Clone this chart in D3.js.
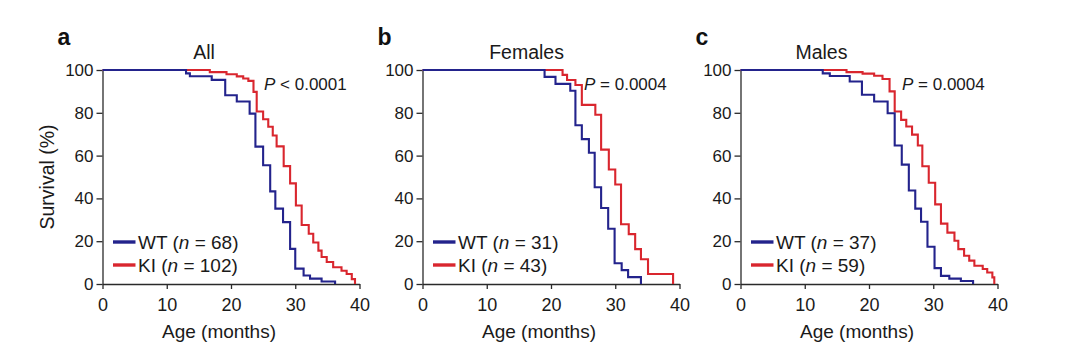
<!DOCTYPE html>
<html><head><meta charset="utf-8">
<script src="https://cdn.jsdelivr.net/npm/d3@7"></script>
<style>
html,body{margin:0;padding:0;background:#fff;}
svg{display:block;font-family:"Liberation Sans",Arial,Helvetica,sans-serif;}
</style></head>
<body><svg id="chart" width="1080" height="358"></svg>
<script>
// ---- data ----
const panelLetters = ["a", "b", "c"];
const panelTitles = ["All", "Females", "Males"];
const pValues = ["< 0.0001", "= 0.0004", "= 0.0004"];
const wtCounts = [68, 31, 37];
const kiCounts = [102, 43, 59];
const xTicks = [0, 10, 20, 30, 40];
const yTicks = [0, 20, 40, 60, 80, 100];
// step points: [age (months), survival (%) after the drop]
const wtAll = [[13.0,98.4],[13.6,97.1],[17.0,95.4],[19.1,88.2],[20.9,85.3],[22.9,79.6],[23.8,64.2],[25.0,55.5],[26.1,43.3],[26.9,35.2],[28.1,28.9],[29.2,16.4],[30.0,7.2],[31.3,4.0],[32.3,2.5],[34.1,1.2],[36.2,0]];
const kiAll = [[16.7,99.0],[19.3,98.0],[20.9,97.0],[21.9,96.0],[22.7,94.9],[23.5,89.8],[24.0,80.6],[25.0,77.0],[25.8,73.5],[26.5,69.4],[27.1,64.3],[28.2,55.1],[29.2,47.0],[30.1,36.7],[31.0,27.6],[32.1,23.5],[32.8,19.4],[33.6,15.6],[34.1,12.6],[34.9,10.3],[35.9,7.8],[37.2,6.2],[38.0,4.7],[38.8,2.3],[39.3,0]];
const wtFemales = [[19.0,96.8],[20.7,93.5],[23.0,90.3],[23.8,74.2],[24.8,67.7],[25.9,61.3],[26.8,45.2],[27.8,35.5],[28.9,25.8],[29.9,9.7],[31.0,6.5],[32.0,3.2],[34.0,0]];
const kiFemales = [[21.8,97.7],[22.5,95.3],[23.8,93.0],[24.8,83.7],[26.9,79.1],[27.8,62.8],[29.0,53.5],[30.0,46.5],[30.9,27.9],[32.1,23.3],[33.1,16.3],[34.0,11.6],[35.1,4.7],[39.0,0]];
const wtMales = [[12.8,98.4],[13.9,97.2],[17.0,94.6],[18.9,88.4],[20.8,85.3],[22.9,79.8],[24.0,64.7],[25.1,55.8],[26.2,43.7],[27.2,35.2],[28.1,29.1],[29.1,17.4],[30.2,7.4],[31.2,3.8],[32.5,2.5],[34.3,1.4],[36.2,0]];
const kiMales = [[16.5,99.0],[19.0,98.3],[20.8,97.3],[22.1,95.8],[23.2,90.0],[24.0,80.6],[25.0,76.7],[25.8,73.6],[26.7,69.8],[27.6,64.7],[28.3,55.0],[29.3,47.3],[30.3,37.2],[31.2,28.2],[32.2,24.0],[33.3,20.2],[33.9,16.3],[34.8,13.2],[35.6,10.9],[36.4,8.5],[37.7,7.0],[38.4,5.4],[39.2,3.1],[39.5,0]];
const wtSeries = [wtAll, wtFemales, wtMales];
const kiSeries = [kiAll, kiFemales, kiMales];

// ---- layout ----
const WT_COLOR = "#23238c", KI_COLOR = "#d9262e", AXIS_COLOR = "#2a2a2a", TEXT_COLOR = "#1a1a1a";
const panelX0 = [102.5, 422.5, 740.5];
const plotW = 257, yTop = 70, yBottom = 284;
const titleAt = [15.8, 16.2, 12.6];  // months where the title is centred

const svg = d3.select("#chart");

panelLetters.forEach((letter, i) => {
  const x = d3.scaleLinear().domain([0, 40]).range([panelX0[i], panelX0[i] + plotW]);
  const y = d3.scaleLinear().domain([0, 100]).range([yBottom, yTop]);
  const g = svg.append("g");

  // axes
  const xAxis = g.append("g").attr("transform", `translate(0,${yBottom})`)
    .call(d3.axisBottom(x).tickValues(xTicks).tickSize(5).tickSizeOuter(0).tickPadding(5));
  const yAxis = g.append("g").attr("transform", `translate(${panelX0[i]},0)`)
    .call(d3.axisLeft(y).tickValues(yTicks).tickSize(6).tickSizeOuter(0).tickPadding(3));
  [xAxis, yAxis].forEach(a => {
    a.select(".domain").attr("stroke", AXIS_COLOR).attr("stroke-width", 1.3);
    a.selectAll(".tick line").attr("stroke", AXIS_COLOR).attr("stroke-width", 1.3);
    a.selectAll(".tick text").attr("fill", TEXT_COLOR)
      .style("font-family", '"Liberation Sans",Arial,sans-serif');
  });
  yAxis.selectAll(".tick text").style("font-size", "17px");
  xAxis.selectAll(".tick text").style("font-size", "18px").attr("dy", "0.95em");

  // curves
  const line = d3.line().x(d => x(d[0])).y(d => y(d[1])).curve(d3.curveStepAfter);
  const draw = (pts, color) => {
    const full = [[0, 100], ...pts];
    g.append("path").attr("d", line(full)).attr("fill", "none")
      .attr("stroke", color).attr("stroke-width", 2.1);
  };
  draw(kiSeries[i], KI_COLOR);
  draw(wtSeries[i], WT_COLOR);

  // panel letter
  g.append("text").attr("x", panelX0[i] - 45).attr("y", 45)
    .style("font-size", "23px").style("font-weight", "bold").attr("fill", "#111").text(letter);
  // title
  g.append("text").attr("x", x(titleAt[i])).attr("y", 59).attr("text-anchor", "middle")
    .style("font-size", "19.5px").attr("fill", TEXT_COLOR).text(panelTitles[i]);
  // p-value
  const pt = g.append("text").attr("x", panelX0[i] + 161.5).attr("y", 90)
    .style("font-size", "17px").attr("fill", TEXT_COLOR);
  pt.append("tspan").style("font-style", "italic").text("P");
  pt.append("tspan").text(" " + pValues[i]);

  // legend
  const legend = [[WT_COLOR, "WT", wtCounts[i]], [KI_COLOR, "KI", kiCounts[i]]];
  legend.forEach((L, k) => {
    const ly = 242 + k * 23;
    g.append("line").attr("x1", panelX0[i] + 10.5).attr("x2", panelX0[i] + 33)
      .attr("y1", ly).attr("y2", ly).attr("stroke", L[0]).attr("stroke-width", 3.4);
    const t = g.append("text").attr("x", panelX0[i] + 35.5).attr("y", ly + 6.5)
      .style("font-size", "19px").attr("fill", TEXT_COLOR);
    t.append("tspan").text(L[1] + " (");
    t.append("tspan").style("font-style", "italic").text("n");
    t.append("tspan").text(" = " + L[2] + ")");
  });

  // x label
  g.append("text").attr("x", panelX0[i] + plotW / 2 - 12).attr("y", 338).attr("text-anchor", "middle")
    .style("font-size", "19px").attr("fill", TEXT_COLOR).text("Age (months)");
});

// y label (only first panel)
svg.append("text").attr("transform", `translate(54,177) rotate(-90)`).attr("text-anchor", "middle")
  .style("font-size", "19.5px").attr("fill", TEXT_COLOR).text("Survival (%)");
</script></body></html>
